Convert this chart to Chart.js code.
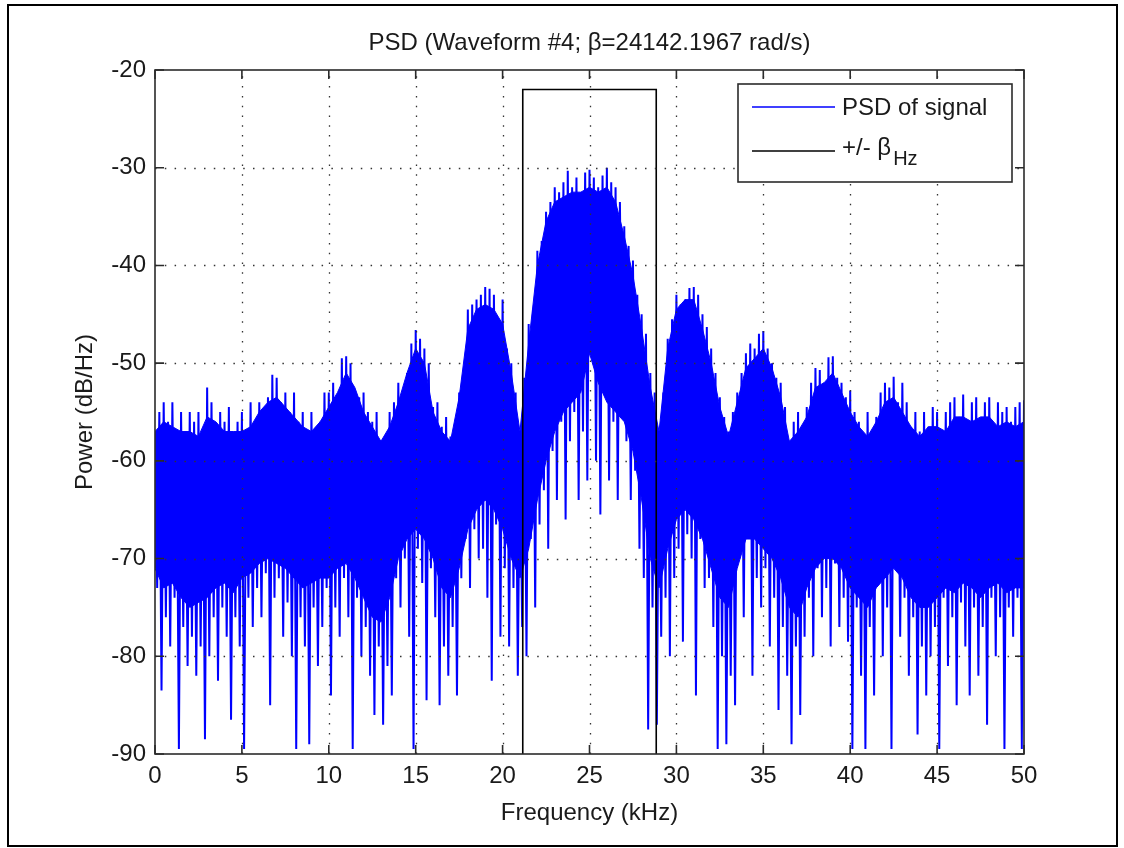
<!DOCTYPE html>
<html lang="en">
  <head>
    <meta charset="UTF-8" />
    <title>PSD (Waveform #4)</title>
    <!-- Chart.js -->
    <script src="https://cdn.jsdelivr.net/npm/chart.js"></script>
    <style>
      html,
      body {
        margin: 0;
        padding: 0;
        background: #fff;
      }
      canvas {
        display: block;
      }
    </style>
  </head>
  <body>
    <canvas id="psdChart" width="1124" height="848"></canvas>

    <script>
      // envelope readings of the PSD trace, one pair every 0.25 kHz
      const stepKHz = 0.25;

      // upper spike tips (dB/Hz) at 0, 0.25, ... 50 kHz
      const peakTops = [
        -57, -55, -54, -56, -54, -58, -55, -57, -55, -56, -55, -57, -52.5, -54, -57, -55, -56, -54.5, -58, -56,
        -55, -58, -54, -56, -54, -55, -53.5, -51.2, -51.5, -54, -53, -55, -53, -56, -55, -57, -55, -58, -56, -53,
        -53, -52, -54.5, -49.5, -49.3, -50, -53, -53.5, -53, -55, -56, -55, -58, -58.7, -55, -54, -52, -53.5, -51, -48,
        -46.6, -47.5, -48.5, -50, -54.5, -54, -56.5, -55.5, -57.5, -57, -53, -51.7, -44.5, -44, -43.5, -43, -42.2, -42.4, -43, -45.5,
        -43.5, -48.5, -50, -53, -57, -51.5, -46, -44.5, -38.5, -37.5, -34.5, -33.5, -32, -32.5, -31.5, -30.3, -32, -31, -32.5, -30.5,
        -30.2, -31, -32, -30.8, -30, -31.5, -32, -33.5, -36, -38, -39.5, -43, -45, -47, -51, -53, -57, -53, -47.5, -45.5,
        -43, -44, -43.5, -42.3, -42.2, -43, -45, -46.3, -48.5, -51, -53.5, -55.5, -57, -55, -53, -51, -49, -48, -48.5, -47,
        -46.7, -48.5, -50, -51.5, -52, -54.5, -58.5, -56, -55, -57, -54.5, -52, -50.5, -50.7, -52, -49.4, -49.3, -51.5, -52, -53.5,
        -52.8, -55, -56, -57.5, -55, -58, -55.5, -53, -52, -52.5, -51.4, -54, -52, -54, -56.5, -55, -57, -55, -56.5, -54.5,
        -55, -57.5, -55, -54, -53.5, -55.5, -53.2, -56, -54, -53.5, -56.5, -54, -53.5, -57.5, -54, -55, -54.5, -56, -54.5, -54,
        -53.8,
      ];

      // lower spike tips (dB/Hz) half a step after each top
      const peakBottoms = [
        -73, -83.5, -76, -79, -74, -89.5, -77, -81, -78, -82, -79, -88.5, -80, -76, -82.5, -75, -78, -86.5, -76, -79,
        -89.5, -74, -77, -73, -76, -71.5, -85, -74, -72, -78, -74.5, -80, -89.5, -76, -79, -89, -75, -81, -77, -73,
        -84, -75, -78, -72, -76, -89.5, -74, -80, -77, -82, -86, -79, -87, -81, -84, -72, -75, -70, -78, -89.5,
        -69, -72.5, -84.5, -71, -76, -85, -79, -82, -77, -84, -72, -68, -73, -67, -70, -69, -74, -82.5, -66.5, -78,
        -71, -79, -73, -82, -77, -80, -68, -75, -66.5, -63, -69, -59, -64, -56, -66, -58, -55, -64, -57, -62,
        -44, -60, -65.5, -53, -62, -56, -64, -55, -58, -64, -61, -69, -72, -87.5, -75, -87, -78, -74, -80, -72,
        -69, -78.5, -67.5, -70, -84, -68, -73, -72, -77, -89.5, -80, -89, -82, -85, -70, -76, -68, -82, -72, -75,
        -71, -79, -74, -85.5, -77, -82, -89, -79, -86, -78, -74, -80, -71, -76, -73, -79, -70.5, -77, -74, -78.5,
        -89.5, -75, -82, -89.5, -77, -84, -72, -80, -75, -89.5, -71, -78, -74, -82, -76, -88, -79, -84, -80, -77,
        -89.5, -74, -81, -76, -85, -74.5, -79, -84, -75, -82, -77, -87, -74, -80, -76, -89.5, -75, -78, -74, -89.5,
      ];

      // solid core of the trace, upper and lower edge every 0.5 kHz
      const coreStepKHz = 0.5;
      const coreTop = [
        -57, -56, -56.5, -57, -57, -57.5, -55.5, -56, -57, -57,
        -57, -56.5, -55, -54, -53.5, -54.5, -55.5, -56.5, -57, -56,
        -54.5, -53, -51, -52.5, -55, -56.5, -58, -56.5, -54, -51,
        -48.5, -50, -55, -57, -58, -53.5, -46.5, -44.5, -44, -44.5,
        -46, -51, -57, -48, -40, -35.5, -33.5, -33, -32.5, -32.5,
        -32, -32.5, -32, -33.5, -37, -41, -46.5, -52.5, -57, -48.5,
        -44.5, -43.5, -43.5, -46.5, -50, -54.5, -57.5, -54, -50.5, -49.5,
        -48.5, -50.5, -53.5, -58, -57, -55.5, -52.5, -52, -51, -53,
        -55, -56.5, -57.5, -56, -54, -53.5, -55, -56.5, -57.5, -56.5,
        -56.5, -57, -55.5, -55.5, -56, -55.5, -55.5, -56.5, -56, -56.5,
        -56,
      ];
      const coreBottom = [
        -71, -73, -72.5, -74, -75, -74.5, -74, -73, -72.5, -73.5,
        -72, -71.5, -70.5, -70, -70.5, -71, -72, -73, -72.5, -72,
        -72, -71, -70.5, -72, -74, -76, -76.5, -74, -70, -68,
        -67, -68, -70, -73, -74, -71, -67, -65, -64, -65,
        -67, -70, -72, -69, -64, -60, -57, -55, -54, -53,
        -49, -52, -54, -55, -56, -59, -64, -70, -73, -69,
        -66, -65, -66, -68, -71, -74, -75, -71, -68, -68,
        -69, -70, -72, -75, -76, -73, -71, -70, -70, -71,
        -73, -74, -75, -73, -72, -71, -72, -74, -75, -75,
        -74, -73, -73.5, -72.5, -73, -74, -73, -72.5, -73.5, -73,
        -73,
      ];

      // +/- beta_Hz box around the 25 kHz carrier
      const bandX = [21.16, 21.16, 28.84, 28.84];
      const bandY = [-90, -22, -22, -90];

      const xTickValues = [0, 5, 10, 15, 20, 25, 30, 35, 40, 45, 50];
      const yTickValues = [-90, -80, -70, -60, -50, -40, -30, -20];

      const FONT = "'Liberation Sans', Arial, sans-serif";
      const TEXT_COLOR = "#1a1a1a";
      const AXIS_COLOR = "#2b2b2b";
      const BLUE = "#0000ff";

      // zigzag between top and bottom tips
      const psdPoints = [];
      peakTops.forEach((top, i) => {
        psdPoints.push({ x: i * stepKHz, y: top });
        if (i < peakBottoms.length) {
          psdPoints.push({ x: i * stepKHz + stepKHz / 2, y: peakBottoms[i] });
        }
      });
      const coreTopPoints = coreTop.map((v, i) => ({ x: i * coreStepKHz, y: v }));
      const coreBottomPoints = coreBottom.map((v, i) => ({ x: i * coreStepKHz, y: v }));
      const bandPoints = bandX.map((x, i) => ({ x, y: bandY[i] }));

      // MATLAB style frame: dotted grid, box, inward ticks
      const framePlugin = {
        id: "matlabFrame",
        afterDatasetsDraw(chart) {
          const { ctx, chartArea: a, scales } = chart;
          const x = scales.x;
          const y = scales.y;
          ctx.save();

          // dotted grid
          ctx.strokeStyle = "#333";
          ctx.lineWidth = 1.3;
          ctx.setLineDash([1.5, 8.3]);
          xTickValues.forEach((v) => {
            const px = Math.round(x.getPixelForValue(v)) + 0.5;
            if (px <= a.left + 1 || px >= a.right - 1) return;
            ctx.beginPath();
            ctx.moveTo(px, a.bottom);
            ctx.lineTo(px, a.top);
            ctx.stroke();
          });
          yTickValues.forEach((v) => {
            const py = Math.round(y.getPixelForValue(v)) + 0.5;
            if (py <= a.top + 1 || py >= a.bottom - 1) return;
            ctx.beginPath();
            ctx.moveTo(a.left, py);
            ctx.lineTo(a.right, py);
            ctx.stroke();
          });
          ctx.setLineDash([]);

          // box
          ctx.strokeStyle = AXIS_COLOR;
          ctx.lineWidth = 1.6;
          ctx.strokeRect(a.left, a.top, a.right - a.left, a.bottom - a.top);

          // ticks pointing inwards on all four sides
          const tl = 9;
          ctx.beginPath();
          xTickValues.forEach((v) => {
            const px = x.getPixelForValue(v);
            ctx.moveTo(px, a.bottom);
            ctx.lineTo(px, a.bottom - tl);
            ctx.moveTo(px, a.top);
            ctx.lineTo(px, a.top + tl);
          });
          yTickValues.forEach((v) => {
            const py = y.getPixelForValue(v);
            ctx.moveTo(a.left, py);
            ctx.lineTo(a.left + tl, py);
            ctx.moveTo(a.right, py);
            ctx.lineTo(a.right - tl, py);
          });
          ctx.stroke();
          ctx.restore();
        },
        afterDraw(chart) {
          const { ctx, chartArea: a } = chart;
          const cx = (a.left + a.right) / 2;
          const cy = (a.top + a.bottom) / 2;
          ctx.save();
          ctx.fillStyle = TEXT_COLOR;
          ctx.textAlign = "center";
          ctx.textBaseline = "middle";
          ctx.font = "24px " + FONT;

          // title and axis labels
          ctx.fillText("PSD (Waveform #4; β=24142.1967 rad/s)", cx, a.top - 27);
          ctx.fillText("Frequency (kHz)", cx, a.bottom + 59);
          ctx.save();
          ctx.translate(85, cy);
          ctx.rotate(-Math.PI / 2);
          ctx.fillText("Power (dB/Hz)", 0, 0);
          ctx.restore();

          // legend
          const lx = a.right - 286;
          const ly = a.top + 14;
          const lw = 274;
          const lh = 98;
          ctx.fillStyle = "#fff";
          ctx.fillRect(lx, ly, lw, lh);
          ctx.strokeStyle = AXIS_COLOR;
          ctx.lineWidth = 1.6;
          ctx.strokeRect(lx, ly, lw, lh);

          ctx.lineWidth = 1.5;
          ctx.strokeStyle = BLUE;
          ctx.beginPath();
          ctx.moveTo(lx + 14, ly + 23);
          ctx.lineTo(lx + 97, ly + 23);
          ctx.stroke();
          ctx.strokeStyle = "#000";
          ctx.beginPath();
          ctx.moveTo(lx + 14, ly + 67);
          ctx.lineTo(lx + 97, ly + 67);
          ctx.stroke();

          ctx.fillStyle = TEXT_COLOR;
          ctx.textAlign = "left";
          ctx.fillText("PSD of signal", lx + 104, ly + 24);
          const main = "+/- β";
          ctx.fillText(main, lx + 104, ly + 64);
          const w = ctx.measureText(main).width;
          ctx.font = "20px " + FONT;
          ctx.fillText("Hz", lx + 104 + w + 2, ly + 75);

          // figure border
          ctx.strokeStyle = "#000";
          ctx.lineWidth = 2;
          ctx.strokeRect(8, 5, 1109, 841);
          ctx.restore();
        },
      };

      new Chart(document.getElementById("psdChart"), {
        type: "line",
        data: {
          datasets: [
            {
              label: "+/- βHz",
              data: bandPoints,
              borderColor: "#000",
              borderWidth: 1.6,
              pointRadius: 0,
              fill: false,
              order: 0,
            },
            {
              label: "PSD of signal",
              data: psdPoints,
              borderColor: BLUE,
              borderWidth: 2,
              borderJoinStyle: "bevel",
              pointRadius: 0,
              tension: 0,
              fill: false,
              order: 1,
            },
            {
              label: "core top",
              data: coreTopPoints,
              borderColor: BLUE,
              backgroundColor: BLUE,
              borderWidth: 1,
              pointRadius: 0,
              tension: 0,
              fill: "+1",
              order: 2,
            },
            {
              label: "core bottom",
              data: coreBottomPoints,
              borderColor: BLUE,
              borderWidth: 1,
              pointRadius: 0,
              tension: 0,
              fill: false,
              order: 3,
            },
          ],
        },
        options: {
          responsive: false,
          animation: false,
          devicePixelRatio: 1,
          layout: { padding: { left: 0, top: 70, right: 100, bottom: 0 } },
          plugins: {
            legend: { display: false },
            tooltip: { enabled: false },
          },
          scales: {
            x: {
              type: "linear",
              min: 0,
              max: 50,
              grid: { display: false, drawTicks: false },
              border: { display: false },
              afterBuildTicks: (s) => {
                s.ticks = xTickValues.map((v) => ({ value: v }));
              },
              afterFit: (s) => {
                s.height = 94;
                s.paddingLeft = 0;
                s.paddingRight = 0;
              },
              ticks: {
                maxRotation: 0,
                autoSkip: false,
                padding: 8,
                color: TEXT_COLOR,
                font: { family: FONT, size: 24 },
              },
            },
            y: {
              type: "linear",
              min: -90,
              max: -20,
              grid: { display: false, drawTicks: false },
              border: { display: false },
              afterBuildTicks: (s) => {
                s.ticks = yTickValues.map((v) => ({ value: v }));
              },
              afterFit: (s) => {
                s.width = 155;
                s.paddingTop = 0;
                s.paddingBottom = 0;
              },
              ticks: {
                autoSkip: false,
                padding: 9,
                color: TEXT_COLOR,
                font: { family: FONT, size: 24 },
              },
            },
          },
        },
        plugins: [framePlugin],
      });
    </script>
  </body>
</html>
